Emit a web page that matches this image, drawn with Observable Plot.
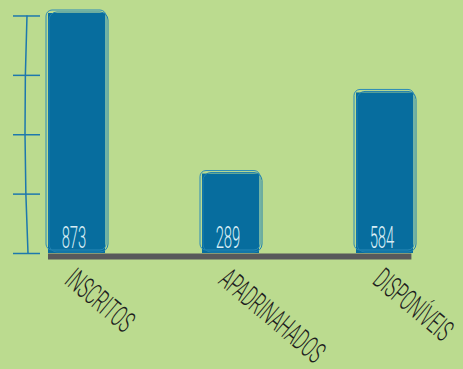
<!DOCTYPE html>
<html><head><meta charset="utf-8">
<script src="https://cdn.jsdelivr.net/npm/d3@7"></script>
<script src="https://cdn.jsdelivr.net/npm/@observablehq/plot@0.6"></script>
<style>
html,body{margin:0;padding:0;background:#bbdb8f;overflow:hidden;}
</style></head><body><div id="chart"></div>
<script>
const categories = ["INSCRITOS", "APADRINAHADOS", "DISPONÍVEIS"];
const values = [873, 289, 584];
const valueLabels = ["873", "289", "584"];
const tickValues = [0, 216, 432, 648, 864];

const data = categories.map((c, i) => ({category: c, value: values[i], label: valueLabels[i]}));

const plot = Plot.plot({
  width: 463, height: 369,
  marginLeft: 40, marginRight: 42.6, marginTop: 13, marginBottom: 116,
  style: {background: "transparent", overflow: "visible"},
  x: {domain: categories, paddingInner: 0.63, paddingOuter: 0.05, axis: null},
  y: {domain: [0, 873], axis: null, label: null},
  marks: [
    Plot.axisY({ticks: tickValues, tickSize: 27, tickFormat: () => "", label: null, stroke: "#1d78ad", strokeWidth: 1.5}),
    Plot.barY(data, {x: "category", y: "value", fill: "#076d9e"}),
    Plot.barY(data, {x: "category", y: "value", fill: "none", stroke: "#2a8bb8", strokeWidth: 1, rx: 6, insetLeft: -2, insetRight: -1, dy: -3}),
    Plot.barY(data, {x: "category", y: "value", fill: "none", stroke: "#1f80b0", strokeWidth: 1, rx: 8, insetLeft: 1, insetRight: -3, dy: -1}),
    Plot.ruleY([0], {stroke: "#58595b", strokeWidth: 6, dy: 3, insetLeft: 8, insetRight: 9}),
    Plot.text(data, {x: "category", y: 0, text: "label", dx: -3, dy: -6, lineAnchor: "bottom", textAnchor: "middle", fill: "#d8edf5", fontSize: 31, fontFamily: "Roboto", fontWeight: 300}),
    Plot.text(data, {x: "category", y: 0, text: "category", rotate: 40, textAnchor: "start", lineAnchor: "top", dy: 13, fill: "#1e1e1e", fontSize: 30, fontFamily: "Roboto", fontWeight: 300})
  ]
});

function squeeze(g, s) {
  g.querySelectorAll("text").forEach(t => {
    let tr = t.getAttribute("transform") || "";
    if (t.hasAttribute("x")) {
      const x = parseFloat(t.getAttribute("x"));
      if (!isNaN(x)) { t.removeAttribute("x"); tr += ` translate(${x},0)`; }
    }
    t.setAttribute("transform", tr + ` scale(${s},1)`);
  });
}
const textGroups = plot.querySelectorAll('g[aria-label="text"]');
if (textGroups[0]) squeeze(textGroups[0], 0.48);
if (textGroups[1]) squeeze(textGroups[1], 0.53);

// hand-drawn vertical axis line through the tick marks
const ys = plot.scale("y");
const yTop = ys.apply(tickValues[tickValues.length - 1]);
const yBot = ys.apply(tickValues[0]);
const xm = 40 - 27 / 2;
d3.select(plot).insert("path", ":first-child")
  .attr("d", `M${xm + 0.5},${yTop} Q${xm - 4},${(yTop + yBot) / 2} ${xm + 1.5},${yBot}`)
  .attr("fill", "none").attr("stroke", "#1d78ad").attr("stroke-width", 1.5);

document.getElementById("chart").appendChild(plot);
</script></body></html>
